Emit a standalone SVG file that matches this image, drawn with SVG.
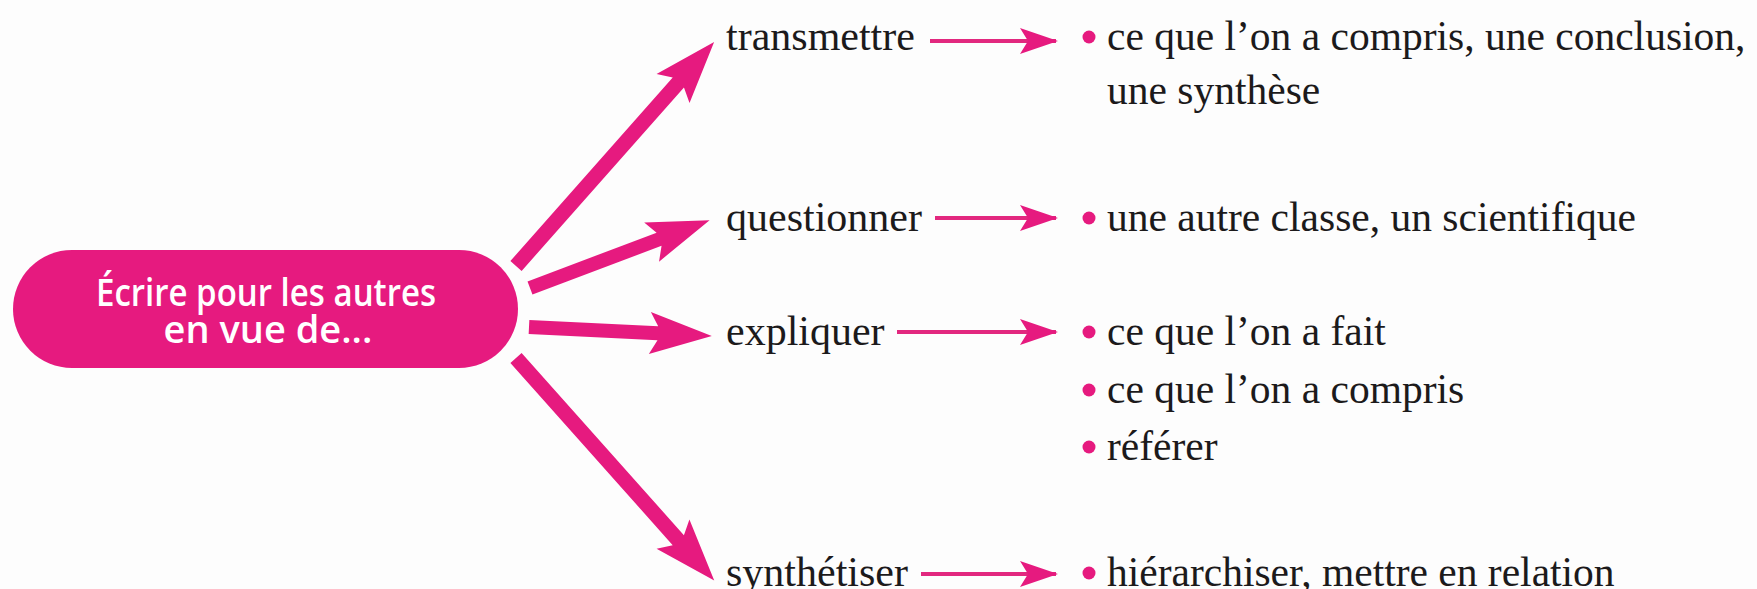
<svg xmlns="http://www.w3.org/2000/svg" width="1757" height="589" viewBox="0 0 1757 589">
  <style>
    .pink { fill: #E61A7F; }
    .hub-text { fill: #ffffff; font-family: "Open Sans", "Liberation Sans", sans-serif; font-weight: 600; font-size: 38px; text-anchor: middle; }
    .label { fill: #1c1a1b; font-family: "Liberation Serif", "DejaVu Serif", serif; font-size: 42px; }
    .item { fill: #1c1a1b; font-family: "Liberation Serif", "DejaVu Serif", serif; font-size: 41.5px; }
    .thin { stroke: #E2287F; stroke-width: 4; fill: none; marker-end: url(#head); }
    .dot { fill: #E61A7F; }
  </style>
  <defs>
    <marker id="head" viewBox="0 0 38 26" refX="36" refY="13" markerUnits="userSpaceOnUse" markerWidth="38" markerHeight="26" orient="auto">
      <path d="M0,0 L38,13 L0,26 L8,13 Z" fill="#E61A7F"/>
    </marker>
  </defs>

  <rect width="1757" height="589" fill="#fdfdfd"/>

  <!-- central topic -->
  <g id="hub">
    <rect class="pink" x="13" y="250" width="505" height="118" rx="59" ry="59"/>
    <text class="hub-text" x="266" y="306" textLength="340" lengthAdjust="spacingAndGlyphs">Écrire pour les autres</text>
    <text class="hub-text" x="268" y="343">en vue de...</text>
  </g>

  <!-- thick arrows from the hub, thin arrows to the bullet lists -->
  <g id="connectors">
    <path class="pink" transform="translate(516,266) rotate(-48.5)" d="M0,-7.5 L245,-7.5 L237,-22 L299,0 L237,22 L245,7.5 L0,7.5 Z"/>
    <path class="pink" transform="translate(530,288) rotate(-20.7)" d="M0,-7 L138,-7 L130,-21 L192,0 L130,21 L138,7 L0,7 Z"/>
    <path class="pink" transform="translate(529,327) rotate(2.8)" d="M0,-7 L129,-7 L121,-21 L183,0 L121,21 L129,7 L0,7 Z"/>
    <path class="pink" transform="translate(516,358) rotate(48.3)" d="M0,-7.5 L244,-7.5 L236,-22 L298,0 L236,22 L244,7.5 L0,7.5 Z"/>

    <line class="thin" x1="930" y1="41" x2="1056" y2="41"/>
    <line class="thin" x1="935" y1="218" x2="1056" y2="218"/>
    <line class="thin" x1="897" y1="332" x2="1056" y2="332"/>
    <line class="thin" x1="921" y1="574" x2="1056" y2="574"/>
  </g>

  <g id="transmettre">
    <text class="label" x="726" y="50">transmettre</text>
    <circle class="dot" cx="1089" cy="37" r="6.5"/>
    <text class="item" x="1107" y="50">ce que l’on a compris, une conclusion,</text>
    <text class="item" x="1107" y="104">une synthèse</text>
  </g>

  <g id="questionner">
    <text class="label" x="726" y="231">questionner</text>
    <circle class="dot" cx="1089" cy="218" r="6.5"/>
    <text class="item" x="1107" y="231">une autre classe, un scientifique</text>
  </g>

  <g id="expliquer">
    <text class="label" x="726" y="345">expliquer</text>
    <circle class="dot" cx="1089" cy="332" r="6.5"/>
    <text class="item" x="1107" y="345">ce que l’on a fait</text>
    <circle class="dot" cx="1089" cy="390" r="6.5"/>
    <text class="item" x="1107" y="403">ce que l’on a compris</text>
    <circle class="dot" cx="1089" cy="447" r="6.5"/>
    <text class="item" x="1107" y="460">référer</text>
  </g>

  <g id="synthetiser">
    <text class="label" x="726" y="586">synthétiser</text>
    <circle class="dot" cx="1089" cy="573" r="6.5"/>
    <text class="item" x="1107" y="586">hiérarchiser, mettre en relation</text>
  </g>
</svg>
